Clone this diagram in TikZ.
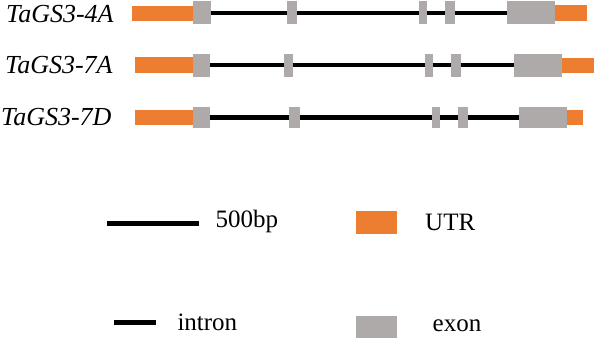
\documentclass[tikz,border=0pt]{standalone}
\usepackage{fontspec}
\setmainfont{Liberation Serif}
\definecolor{utrorange}{RGB}{237,125,49}
\definecolor{exongray}{RGB}{174,170,170}
\begin{document}
\begin{tikzpicture}[x=1pt,y=-1pt,
  utr/.style={fill=utrorange,draw=none,inner sep=0pt,minimum height=15pt},
  exon/.style={fill=exongray,draw=none,inner sep=0pt,minimum height=23pt},
  intronline/.style={line width=4.5pt,black},
  lab/.style={anchor=base west,inner sep=0pt,font=\fontsize{25}{30}\selectfont},
  genelab/.style={anchor=base west,inner sep=0pt,font=\fontsize{26}{31}\selectfont\itshape}]
\useasboundingbox (0,0) rectangle (596,341);
% ---------- gene 1 ----------
\node[genelab] (l1) at (6,22.7) {TaGS3-4A};
\draw[intronline] (201.6,13.2) coordinate (a1) -- (530.8,13.2) coordinate (b1);
\node[utr,minimum width=61pt] (u1a) at (162.2,13.6) {};
\node[exon,minimum width=17.8pt] (e1a) at (201.6,12.8) {};
\node[exon,minimum width=10pt] (e1b) at (291.7,12.8) {};
\node[exon,minimum width=7.7pt] (e1c) at (422.85,12.8) {};
\node[exon,minimum width=10.3pt] (e1d) at (449.85,12.8) {};
\node[exon,minimum width=48.3pt] (e1e) at (530.85,12.8) {};
\node[utr,minimum width=31.7pt,minimum height=15.7pt] (u1b) at (570.85,12.85) {};
% ---------- gene 2 ----------
\node[genelab] (l2) at (5,73.5) {TaGS3-7A};
\draw[intronline] (201.5,65) coordinate (a2) -- (538.3,65) coordinate (b2);
\node[utr,minimum width=58pt,minimum height=16pt] (u2a) at (163.7,65.3) {};
\node[exon,minimum width=17.6pt,minimum height=22.4pt] (e2a) at (201.5,65.5) {};
\node[exon,minimum width=9pt,minimum height=22.4pt] (e2b) at (288.5,65.5) {};
\node[exon,minimum width=7.7pt,minimum height=22.4pt] (e2c) at (428.85,65.5) {};
\node[exon,minimum width=10.3pt,minimum height=22.4pt] (e2d) at (456.15,65.5) {};
\node[exon,minimum width=48pt,minimum height=22.4pt] (e2e) at (538.3,65.5) {};
\node[utr,minimum width=31.7pt] (u2b) at (578.15,65.8) {};
% ---------- gene 3 ----------
\node[genelab] (l3) at (1,125.5) {TaGS3-7D};
\draw[intronline] (201.5,117.4) coordinate (a3) -- (543,117.4) coordinate (b3);
\node[utr,minimum width=57.4pt] (u3a) at (164,117.5) {};
\node[exon,minimum width=17.6pt,minimum height=21pt] (e3a) at (201.5,117.8) {};
\node[exon,minimum width=10.7pt,minimum height=21pt] (e3b) at (294.65,117.8) {};
\node[exon,minimum width=8pt,minimum height=21pt] (e3c) at (435.7,117.8) {};
\node[exon,minimum width=10.6pt,minimum height=21pt] (e3d) at (463,117.8) {};
\node[exon,minimum width=47.4pt,minimum height=21pt] (e3e) at (543,117.8) {};
\node[utr,minimum width=16pt] (u3b) at (574.7,117.3) {};
% ---------- legend ----------
\coordinate (sL) at (107.3,223.3);
\coordinate (sR) at (199.3,223.3);
\draw[line width=4.5pt] (sL) -- (sR);
\node[lab] (t500) at (215.5,227) {500bp};
\node[utr,minimum width=41.3pt,minimum height=23.3pt] (lu) at (376.65,222.65) {};
\node[lab] (tutr) at (425,230.7) {UTR};
\coordinate (iL) at (114,322.7);
\coordinate (iR) at (155.7,322.7);
\draw[line width=5pt] (iL) -- (iR);
\node[lab] (tintron) at (177.3,330) {intron};
\node[exon,minimum width=41.3pt,minimum height=22.3pt] (le) at (376.65,327.15) {};
\node[lab] (texon) at (432.5,331.7) {exon};
\end{tikzpicture}
\end{document}
